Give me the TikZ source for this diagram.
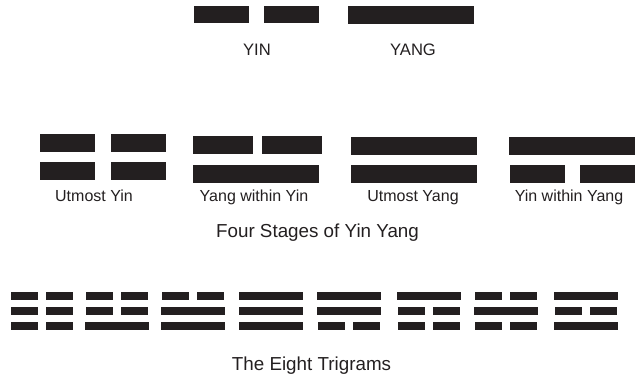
\documentclass[tikz,border=0pt]{standalone}
\usepackage{fontspec}
\setmainfont{Liberation Sans}
\usepackage{tikz}
\usetikzlibrary{positioning}
\definecolor{ink}{HTML}{231F20}

\begin{document}
\begin{tikzpicture}[x=1pt,y=-1pt,every node/.style={inner sep=0pt,text=ink},
  bigbar/.style={fill=ink,minimum height=17pt},
  stageyin/.style={fill=ink,minimum height=18pt,minimum width=55pt},
  stageyang/.style={fill=ink,minimum height=18pt,minimum width=126pt},
  triyin/.style={fill=ink,minimum height=8pt,minimum width=27pt},
  triyang/.style={fill=ink,minimum height=8pt,minimum width=64pt},
  tag/.style={anchor=base,font=\fontsize{16}{19}\selectfont},
  heading/.style={anchor=base,font=\fontsize{18.8}{22}\selectfont}]
\useasboundingbox (0,0) rectangle (635,377);
% yin and yang
\node[bigbar,minimum width=55pt] (yinL) at (221.5,15) {};
\node[bigbar,minimum width=55pt,right=15pt of yinL] (yinR) {};
\node[bigbar,minimum width=126pt,minimum height=18pt] (yang) at (411,15) {};
\node[tag,font=\fontsize{16.6}{19}\selectfont] (yinlbl) at (257,56) {YIN};
\node[tag,font=\fontsize{16.6}{19}\selectfont] (yanglbl) at (413,56) {YANG};
% four stages
\node[stageyin] (uyin1L) at (67.5,143) {};
\node[stageyin,right=16pt of uyin1L] (uyin1R) {};
\node[stageyin] (uyin2L) at (67.5,171.5) {};
\node[stageyin,right=16pt of uyin2L] (uyin2R) {};
\node[stageyin,minimum width=60pt] (ywy1L) at (223,145) {};
\node[stageyin,minimum width=60pt,right=9pt of ywy1L] (ywy1R) {};
\node[stageyang] (ywy2) at (256,174) {};
\node[stageyang] (uyang1) at (414,146) {};
\node[stageyang] (uyang2) at (414,174) {};
\node[stageyang] (ywyang1) at (571.5,146) {};
\node[stageyin] (ywyang2L) at (537,174) {};
\node[stageyin,right=15pt of ywyang2L] (ywyang2R) {};
\node[tag] (uyinlbl) at (94,202) {Utmost Yin};
\node[tag] (ywylbl) at (254,202) {Yang within Yin};
\node[tag] (uyanglbl) at (413,202) {Utmost Yang};
\node[tag] (ywyanglbl) at (569,202) {Yin within Yang};
\node[heading] (stages) at (317.5,237) {Four Stages of Yin Yang};
% eight trigrams
\node[triyin] (kun1L) at (24,296) {};
\node[triyin,right=8pt of kun1L] (kun1R) {};
\node[triyin] (kun2L) at (24,311) {};
\node[triyin,right=8pt of kun2L] (kun2R) {};
\node[triyin] (kun3L) at (24,326) {};
\node[triyin,right=8pt of kun3L] (kun3R) {};
\node[triyin] (zhen1L) at (99.5,296) {};
\node[triyin,right=8pt of zhen1L] (zhen1R) {};
\node[triyin] (zhen2L) at (99.5,311) {};
\node[triyin,right=8pt of zhen2L] (zhen2R) {};
\node[triyang] (zhen3) at (117,326) {};
\node[triyin] (dui1L) at (175.5,296) {};
\node[triyin,right=8pt of dui1L] (dui1R) {};
\node[triyang] (dui2) at (193,311) {};
\node[triyang] (dui3) at (193,326) {};
\node[triyang] (qian1) at (271,296) {};
\node[triyang] (qian2) at (271,311) {};
\node[triyang] (qian3) at (271,326) {};
\node[triyang] (xun1) at (348.5,296) {};
\node[triyang] (xun2) at (348.5,311) {};
\node[triyin] (xun3L) at (331,326) {};
\node[triyin,right=8pt of xun3L] (xun3R) {};
\node[triyang] (gen1) at (429,296) {};
\node[triyin] (gen2L) at (411.5,311) {};
\node[triyin,right=8pt of gen2L] (gen2R) {};
\node[triyin] (gen3L) at (411.5,326) {};
\node[triyin,right=8pt of gen3L] (gen3R) {};
\node[triyin] (kan1L) at (488.5,296) {};
\node[triyin,right=8pt of kan1L] (kan1R) {};
\node[triyang] (kan2) at (506,311) {};
\node[triyin] (kan3L) at (488.5,326) {};
\node[triyin,right=8pt of kan3L] (kan3R) {};
\node[triyang] (li1) at (586,296) {};
\node[triyin] (li2L) at (568.5,311) {};
\node[triyin,right=8pt of li2L] (li2R) {};
\node[triyang] (li3) at (586,326) {};
\node[heading] (trigrams) at (311.5,370) {The Eight Trigrams};
\end{tikzpicture}
\end{document}
